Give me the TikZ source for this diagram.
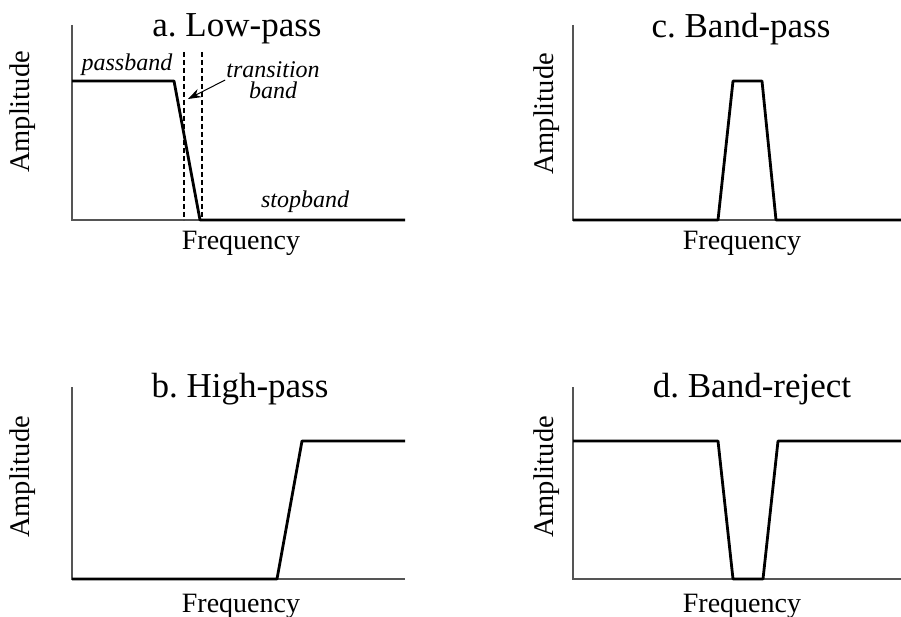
\documentclass[tikz,border=0pt]{standalone}
\usepackage{fontspec}
\setmainfont{Liberation Serif}
\usetikzlibrary{arrows.meta}
\definecolor{axisgray}{RGB}{85,85,85}

\begin{document}
\begin{tikzpicture}[x=1pt, y=-1pt,
  axis/.style={axisgray, line width=1.3pt},
  resp/.style={black, line width=2.8pt, line join=round},
  edgeline/.style={black, line width=1.1pt, dash pattern=on 5pt off 3pt},
  paneltitle/.style={anchor=base, inner sep=0pt, font=\fontsize{35}{38}\selectfont},
  freqlabel/.style={anchor=base, inner sep=0pt, font=\fontsize{28}{30}\selectfont},
  amplabel/.style={rotate=90, inner sep=0pt, font=\fontsize{28.5}{30}\selectfont},
  bandlabel/.style={inner sep=1pt, font=\fontsize{24}{21}\selectfont\itshape}]
\useasboundingbox (0,0) rectangle (901,617);
% Axes of the four panels
\foreach \ox/\ya/\yb/\xr in {72/25/220/405, 573/25/220/901, 72/387/579/405, 573/387/579/901} {
  \draw[axis] (\ox,\ya) -- (\ox,\yb) -- (\xr,\yb);
}
% Axis labels
\foreach \fx/\fy/\ax/\ay [count=\i] in {241/250/23/112, 742/250/547/114, 241/612/23/477, 742/612/547/477} {
  \node[freqlabel] (freq\i) at (\fx,\fy) {Frequency};
  \node[amplabel] (amp\i) at (\ax,\ay) {Amplitude};
}
% Panel titles
\node[paneltitle] (titlea) at (237,37) {a.\ Low-pass};
\node[paneltitle] (titlec) at (741,38) {c.\ Band-pass};
\node[paneltitle] (titleb) at (240,397) {b.\ High-pass};
\node[paneltitle] (titled) at (752,397) {d.\ Band-reject};
% a. Low-pass
\draw[edgeline] (184,52) -- (184,220);
\draw[edgeline] (202,52) -- (202,220);
\draw[resp] (72,81) -- (174,81) -- (200,220) -- (405,220);
\node[bandlabel, anchor=base] (pass) at (127,71) {passband};
\node[bandlabel, anchor=base] (stop) at (305,208) {stopband};
\node[bandlabel, align=center] (trans) at (273,80) {transition\\band};
\coordinate (tbtip) at (188,99);
\draw[-{Stealth[length=13pt,width=9pt]}, line width=1pt] (trans.west) -- (tbtip);
% c. Band-pass
\draw[resp] (573,220) -- (718,220) -- (733,81) -- (762,81) -- (776,220) -- (901,220);
% b. High-pass
\draw[resp] (72,579) -- (277,579) -- (302,441) -- (405,441);
% d. Band-reject
\draw[resp] (573,441) -- (718,441) -- (733,579) -- (763,579) -- (778,441) -- (901,441);
\end{tikzpicture}
\end{document}
